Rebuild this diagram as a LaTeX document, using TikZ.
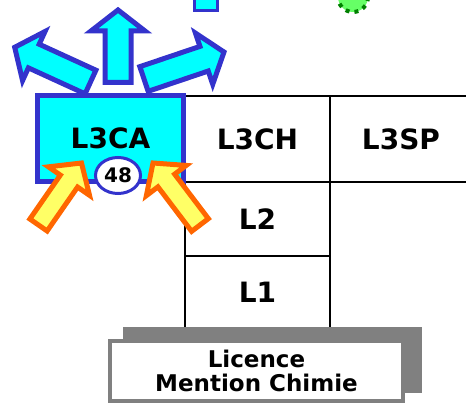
\documentclass[tikz,border=0pt]{standalone}
\usepackage{fontspec}
\setmainfont{DejaVu Sans}
\usetikzlibrary{calc,shapes.geometric}
\definecolor{arrowblue}{RGB}{51,51,204}
\definecolor{boxcyan}{RGB}{0,255,255}
\definecolor{inorange}{RGB}{255,102,0}
\definecolor{inyellow}{RGB}{255,255,102}
\definecolor{shadowgray}{RGB}{128,128,128}
\definecolor{blobgreen}{RGB}{102,255,102}
\definecolor{darkgreen}{RGB}{0,128,0}
% dicker Pfeil: Stil, Fuss, Spitze, halbe Schaftbreite, halbe Kopfbreite, Kopflaenge
\newcommand\fatarrow[6]{%
  \coordinate (fa-b) at ($(#3)!#6!(#2)$);
  \draw[#1] ($(#2)!#4!90:(#3)$) -- ($(fa-b)!#4!90:(#3)$) -- ($(fa-b)!#5!90:(#3)$)
    -- (#3) -- ($(fa-b)!#5!-90:(#3)$) -- ($(fa-b)!#4!-90:(#3)$) -- ($(#2)!#4!-90:(#3)$) -- cycle;
}
\begin{document}
\begin{tikzpicture}[x=1pt,y=-1pt,
  cell/.style={draw, line width=1.5pt, inner sep=0pt, minimum width=145pt,
    font=\fontsize{28}{30}\selectfont\bfseries},
  outarrow/.style={draw=arrowblue, fill=boxcyan, line width=5pt, line join=miter},
  inarrow/.style={draw=inorange, fill=inyellow, line width=5pt, line join=miter}]
  \useasboundingbox (0,0) rectangle (466,403);
  \clip (0,0) rectangle (466,403);
  % die Zellen
  \node[cell, minimum height=86pt] (ch) at (257.5,139) {L3CH};
  \node[cell, minimum height=86pt, minimum width=142pt] (sp) at (401,139) {L3SP};
  \node[cell, minimum height=74pt] (l2) at (257.5,219) {L2};
  \node[cell, minimum height=72pt] (l1) at (257.5,292) {L1};
  % der Sockel
  \fill[shadowgray] (123,327) rectangle (422,393);
  \node[draw=shadowgray, fill=white, line width=4pt, minimum width=293pt, minimum height=60pt,
    align=center, font=\fontsize{23}{24}\selectfont\bfseries] (lic) at (256.5,371) {Licence\\Mention Chimie};
  % Reste oben
  \draw[draw=arrowblue, fill=boxcyan, line width=3pt] (194.5,-10) rectangle (217.5,10.5);
  \draw[draw=darkgreen, fill=blobgreen, line width=4pt, dash pattern=on 4pt off 5pt] (353,-3) circle (15pt);
  % L3CA
  \node[draw=arrowblue, fill=boxcyan, line width=4.5pt, inner sep=0pt, minimum width=146pt, minimum height=86pt,
    font=\fontsize{28}{30}\selectfont\bfseries] (ca) at (110.5,138.5) {L3CA};
  % Pfeile nach aussen
  \coordinate (up-a) at (118,82.5);    \coordinate (up-b) at (118,10);
  \coordinate (left-a) at (90.5,82);   \coordinate (left-b) at (14.7,47.3);
  \coordinate (right-a) at (144,79);   \coordinate (right-b) at (224,52);
  \fatarrow{outarrow}{up-a}{up-b}{13pt}{27pt}{21pt}
  \fatarrow{outarrow}{left-a}{left-b}{13pt}{27pt}{21pt}
  \fatarrow{outarrow}{right-a}{right-b}{13pt}{27pt}{21pt}
  % Pfeile nach innen
  \coordinate (inl-a) at (38.5,225);  \coordinate (inl-b) at (81.5,163);
  \coordinate (inr-a) at (200,225);   \coordinate (inr-b) at (153,163);
  \fatarrow{inarrow}{inl-a}{inl-b}{10.5pt}{25pt}{22pt}
  \fatarrow{inarrow}{inr-a}{inr-b}{10.5pt}{25pt}{22pt}
  \node[ellipse, draw=arrowblue, fill=white, line width=3pt, inner sep=0pt, minimum width=45pt, minimum height=36pt,
    font=\fontsize{20}{20}\selectfont\bfseries] (n48) at (118,175.5) {48};
\end{tikzpicture}
\end{document}
